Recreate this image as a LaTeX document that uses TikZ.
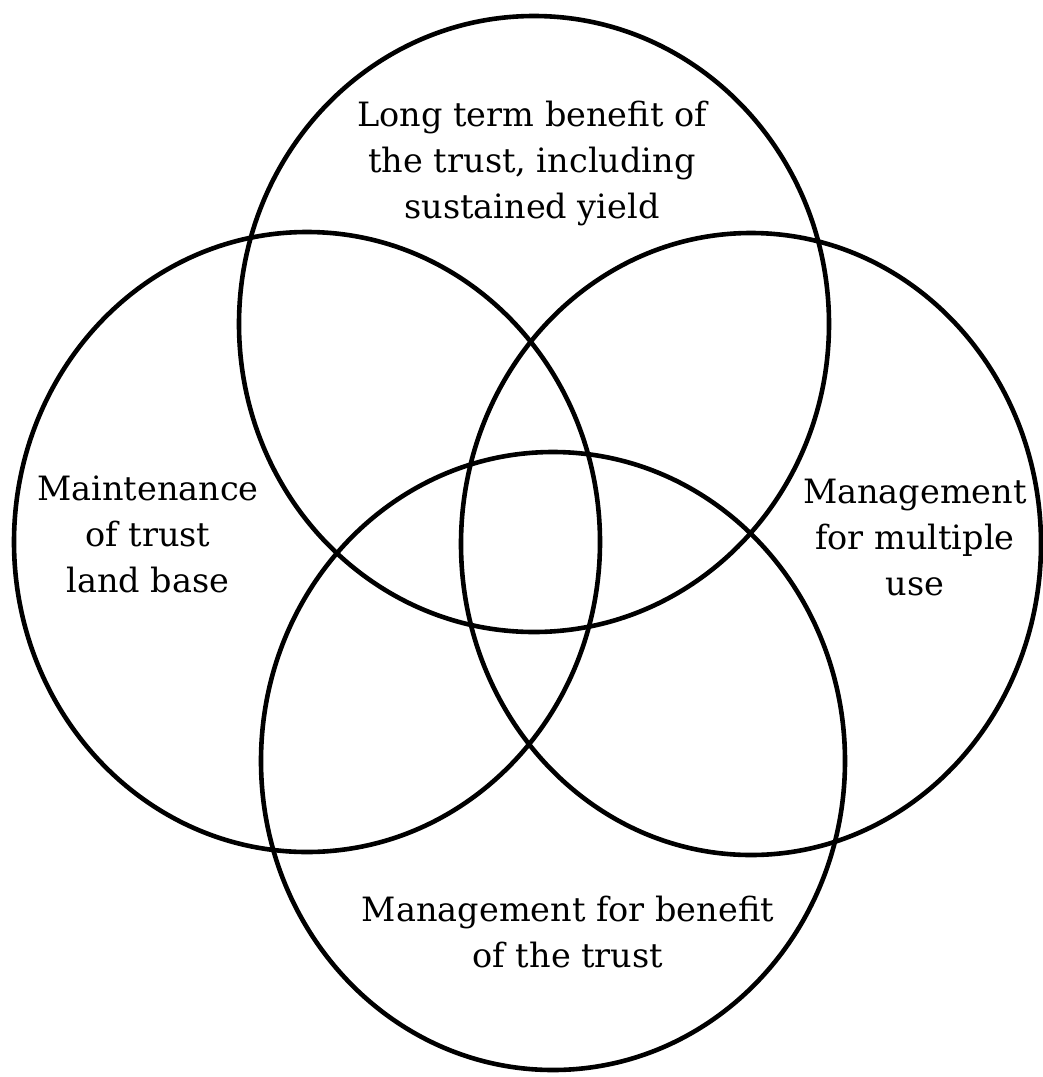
\documentclass[tikz,border=0pt]{standalone}
\usepackage{fontspec}
\setmainfont{DejaVu Serif}
\begin{document}
\begin{tikzpicture}[x=1pt,y=-1pt,
  ring/.style={line width=4.6pt,draw=black},
  label/.style={align=center,font=\fontsize{33.5}{46}\selectfont,inner sep=0pt}]
\useasboundingbox[fill=white] (0,0) rectangle (1043,1077);
% circles
\draw[ring] (534,324) ellipse [x radius=295, y radius=308];
\draw[ring] (307,542) ellipse [x radius=293, y radius=310];
\draw[ring] (751,544) ellipse [x radius=290, y radius=311];
\draw[ring] (553,761) ellipse [x radius=292, y radius=309];
% labels
\node[label] (top) at (532,163) {Long term benefit of\\the trust, including\\sustained yield};
\node[label] (left) at (148,534) {Maintenance\\of trust\\land base};
\node[label] (right) at (915,538) {Management\\for multiple\\use};
\node[label] (bottom) at (568,932) {Management for benefit\\of the trust};
\end{tikzpicture}
\end{document}
